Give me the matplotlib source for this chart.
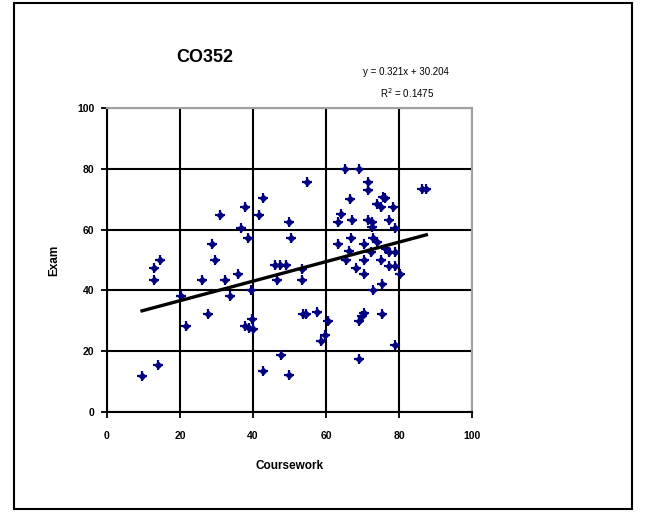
import numpy as np
import matplotlib
matplotlib.use("Agg")
import matplotlib.pyplot as plt
from matplotlib.patches import Rectangle

plt.rcParams['font.family'] = ['Liberation Sans', 'DejaVu Sans']

# coursework / exam marks
coursework = [9.6, 13.0, 13.0, 14.0, 14.6, 20.2, 21.6, 25.9, 27.6, 28.8,
              29.7, 30.9, 32.4, 33.6, 35.8, 36.7, 37.9, 37.9, 38.5, 38.8,
              39.5, 39.7, 40.1, 41.7, 42.7, 42.7, 46.0, 47.5, 49.0, 46.7,
              47.7, 49.8, 50.4, 50.0, 53.5, 53.5, 53.7, 54.6, 54.8, 57.5,
              58.7, 59.6, 60.5, 63.2, 63.3, 64.2, 65.3, 65.5, 66.4, 66.6,
              66.9, 67.1, 68.1, 69.1, 69.1, 69.1, 70.3, 70.3, 70.3, 70.3,
              71.4, 71.4, 71.4, 72.3, 72.6, 72.6, 73.0, 73.0, 73.9, 74.1,
              75.0, 75.0, 75.3, 75.3, 75.5, 76.2, 76.4, 77.3, 77.3, 77.3,
              78.4, 78.9, 78.9, 78.9, 78.9, 80.3, 86.3, 87.5, 69.8]
exam = [12.0, 47.3, 43.3, 15.3, 50.0, 38.1, 28.3, 43.3, 32.3, 55.4,
        50.0, 64.9, 43.3, 38.1, 45.5, 60.5, 67.5, 28.3, 57.2, 27.7,
        40.1, 30.5, 27.2, 64.9, 70.3, 13.4, 48.3, 48.3, 48.3, 43.3,
        18.6, 62.4, 57.2, 12.1, 47.2, 43.3, 32.3, 32.3, 75.6, 33.0,
        23.3, 25.2, 30.1, 55.2, 62.4, 65.1, 80.0, 49.9, 53.0, 70.1,
        57.2, 63.1, 47.5, 80.0, 30.1, 17.3, 55.2, 49.9, 45.3, 32.7,
        75.6, 73.1, 63.1, 52.5, 62.4, 60.7, 57.4, 40.0, 55.8, 68.4,
        67.3, 49.9, 42.0, 32.3, 70.6, 70.3, 53.6, 63.1, 52.5, 48.1,
        67.5, 60.5, 52.8, 48.1, 22.2, 45.3, 73.4, 73.4, 31.5]

slope = 0.321
intercept = 30.204
r_squared = 0.1475

x_ticks = [0, 20, 40, 60, 80, 100]
y_ticks = [0, 20, 40, 60, 80, 100]

fig = plt.figure(figsize=(6.5, 5.12), dpi=100)
fig.patch.set_facecolor('white')
fig.patches.append(Rectangle((0.0215, 0.006), 0.951, 0.988, transform=fig.transFigure,
                             fill=False, edgecolor='black', linewidth=1.5))

ax = fig.add_axes([0.1646, 0.1953, 0.5615, 0.5937])
ax.set_xlim(0, 100)
ax.set_ylim(0, 100)
ax.set_xticks(x_ticks)
ax.set_yticks(y_ticks)

# gridlines
ax.grid(True, color='black', linewidth=1.5, zorder=1)
ax.set_axisbelow(True)

# data points: diamond + cross look
x = np.array(coursework)
y = np.array(exam)
ax.scatter(x, y, marker='D', s=18, color='#000080', zorder=3, linewidths=0)
ax.scatter(x, y, marker='+', s=48, color='#000080', linewidths=1.6, zorder=3)

# trend line
xs = np.array([x.min(), x.max()])
ax.plot(xs, slope * xs + intercept, color='black', linewidth=2.4, zorder=4)

for side in ['left', 'bottom']:
    ax.spines[side].set_color('black')
    ax.spines[side].set_linewidth(1.5)
for side in ['top', 'right']:
    ax.spines[side].set_color('#a0a0a0')
    ax.spines[side].set_linewidth(1.5)

ax.tick_params(direction='out', length=4, width=1.3, labelsize=7.5, pad=10)
for lab in ax.get_xticklabels() + ax.get_yticklabels():
    lab.set_fontweight('bold')
ax.tick_params(axis='y', pad=5)

ax.set_xlabel('Coursework', fontsize=8.5, fontweight='bold', labelpad=13)
ax.set_ylabel('Exam', fontsize=8.5, fontweight='bold', labelpad=12)

fig.text(205 / 650, 1 - 58 / 512, 'CO352', fontsize=13, fontweight='bold',
         ha='center', va='center')
fig.text(406 / 650, 1 - 72 / 512, 'y = %.3fx + %.3f' % (slope, intercept),
         fontsize=7, ha='center', va='center')
fig.text(407 / 650, 1 - 93 / 512, 'R$^2$ = %.4f' % r_squared,
         fontsize=7, ha='center', va='center')

fig.savefig('out.png', dpi=100)
